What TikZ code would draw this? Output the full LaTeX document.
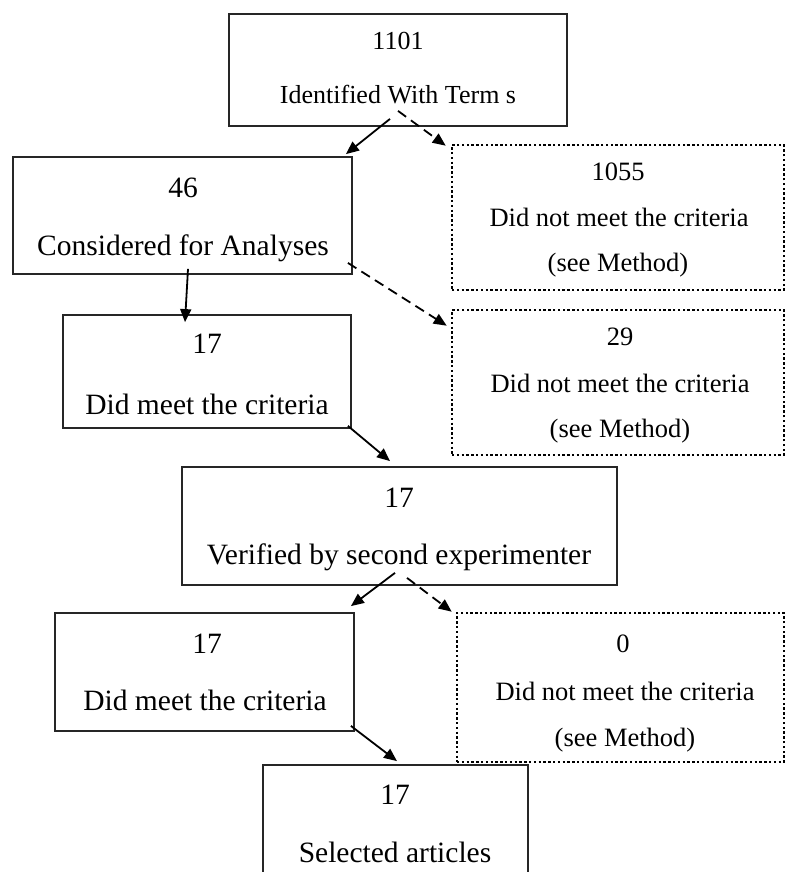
\documentclass[tikz,border=0pt]{standalone}
\usepackage{fontspec}
\setmainfont{Liberation Serif}
\usetikzlibrary{arrows.meta,calc}
\tikzset{
  solidbox/.style={draw=black!85, line width=1.8pt, rectangle, inner sep=0pt, fill=none},
  dotbox/.style={draw=black, line width=2.6pt, dash pattern=on 2.4pt off 2.4pt, rectangle, inner sep=0pt},
  txtA/.style={anchor=base, inner sep=0pt, font=\fontsize{26}{30}\selectfont},
  txtB/.style={anchor=base, inner sep=0pt, font=\fontsize{29.5}{34}\selectfont},
  txtC/.style={anchor=base, inner sep=0pt, font=\fontsize{26.5}{30}\selectfont},
  arr/.style={line width=1.8pt, -{Triangle[length=13pt,width=11pt]}},
  darr/.style={line width=1.8pt, dash pattern=on 10pt off 6pt, -{Triangle[length=13pt,width=11pt]}}
}
\begin{document}
\begin{tikzpicture}[x=1pt,y=-1pt]
\useasboundingbox (0,0) rectangle (785,872);
\clip (0,0) rectangle (785,872);
% boxes
\node[solidbox, minimum width=338pt, minimum height=112pt] (b1) at (398,70) {};
\node[solidbox, minimum width=339pt, minimum height=117pt] (b46) at (182.5,215.5) {};
\node[dotbox, minimum width=332pt, minimum height=145pt] (d1) at (618,217.5) {};
\node[solidbox, minimum width=288pt, minimum height=113pt] (b17a) at (207,371.5) {};
\node[dotbox, minimum width=332pt, minimum height=145pt] (d2) at (618,382.5) {};
\node[solidbox, minimum width=435pt, minimum height=118pt] (bver) at (399.5,526) {};
\node[solidbox, minimum width=299pt, minimum height=118pt] (b17b) at (204.5,672) {};
\node[dotbox, minimum width=327pt, minimum height=149pt] (d3) at (620.5,687.5) {};
\node[solidbox, minimum width=265pt, minimum height=118pt] (bsel) at (395.5,824) {};
% texts
\node[txtA] (t1a) at (398,50) {1101};
\node[txtA] (t1b) at (398,103) {Identified With Term s};
\node[txtB] (t2a) at (183,197) {46};
\node[txtB] (t2b) at (183,255) {Considered for Analyses};
\node[txtC] (t3a) at (618,180) {1055};
\node[txtC] (t3b) at (619,226) {Did not meet the criteria};
\node[txtC] (t3c) at (618,271) {(see Method)};
\node[txtB] (t4a) at (207,353) {17};
\node[txtB] (t4b) at (207,414) {Did meet the criteria};
\node[txtC] (t5a) at (620,345) {29};
\node[txtC] (t5b) at (620,392) {Did not meet the criteria};
\node[txtC] (t5c) at (620,437) {(see Method)};
\node[txtB] (t6a) at (399,507) {17};
\node[txtB] (t6b) at (399,564) {Verified by second experimenter};
\node[txtB] (t7a) at (207,653) {17};
\node[txtB] (t7b) at (205,710) {Did meet the criteria};
\node[txtC] (t8a) at (623,652) {0};
\node[txtC] (t8b) at (625,700) {Did not meet the criteria};
\node[txtC] (t8c) at (625,746) {(see Method)};
\node[txtB] (t9a) at (395,804) {17};
\node[txtB] (t9b) at (395,862) {Selected articles};
% connectors
\draw[arr] ($(b1.south)+(-8,-8)$) -- ($(b46.north east)+(-7,-2)$);
\draw[darr] ($(b1.south)+(0,-16)$) -- ($(d1.north west)+(-5,2)$);
\draw[arr] ($(b46.south)+(5.5,-6)$) -- ($(b17a.north)+(-22,8)$);
\draw[darr] ($(b46.south east)+(-5,-12)$) -- ($(d2.north west)+(-4,17)$);
\draw[arr] ($(b17a.south east)+(-4,-3)$) -- ($(bver.north)+(-9.5,-5)$);
\draw[arr] ($(bver.south)+(-4.5,-13)$) -- ($(b17b.north east)+(-4,-6)$);
\draw[darr] ($(bver.south)+(7.5,-8)$) -- ($(d3.north west)+(-4,0)$);
\draw[arr] ($(b17b.south east)+(-4,-6)$) -- ($(bsel.north)+(1.5,-3)$);
\end{tikzpicture}
\end{document}
